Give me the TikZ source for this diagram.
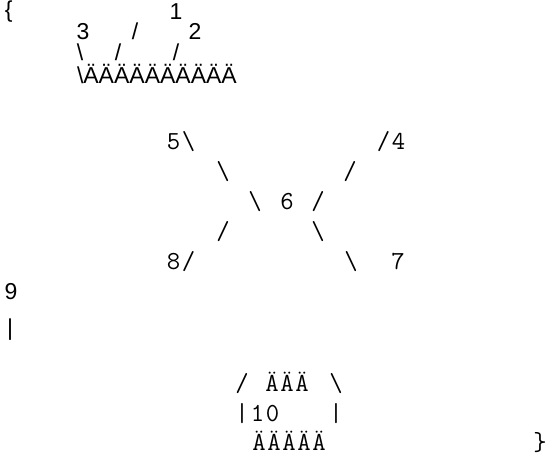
\documentclass[tikz,border=0pt]{standalone}
\usepackage{fontspec}
\setmainfont{Liberation Sans}
\setmonofont{Latin Modern Mono}
\newcommand\cc[1]{\makebox[15pt][c]{#1}}
\tikzset{
  sans/.style={inner sep=0pt, outer sep=0pt, font=\fontsize{23}{23}\selectfont, anchor=base},
  mono/.style={inner sep=0pt, outer sep=0pt, font=\fontsize{26}{26}\selectfont\ttfamily, anchor=base},
}
\begin{document}
\begin{tikzpicture}[x=1pt, y=-1pt]
\useasboundingbox (0,0) rectangle (547,457);
% sans part
\node[sans, anchor=base west] (lbrace) at (5,18) {\{};
\node[sans] (n1) at (176,20) {1};
\node[sans] (n3) at (83,40) {3};
\node[sans] (s1) at (135,40) {/};
\node[sans] (n2) at (195,40) {2};
\node[sans] (b1) at (80,61) {\textbackslash};
\node[sans] (s2) at (118,61) {/};
\node[sans] (s3) at (176,61) {/};
\node[sans, anchor=base west] (bar1) at (77,84) {\textbackslash ÄÄÄÄÄÄÄÄÄÄ};
\node[sans] (n9) at (11,300) {9};
\node[sans] (pipe) at (10,336) {|};
% mono part
\node[mono, anchor=base west] (n5) at (166,150) {\cc{5}\cc{\textbackslash}};
\node[mono, anchor=base east] (n4) at (406,150) {\cc{/}\cc{4}};
\node[mono] (b2) at (223,180) {\textbackslash};
\node[mono] (s4) at (350,180) {/};
\node[mono] (b3) at (255,210) {\textbackslash};
\node[mono] (n6) at (287,210) {6};
\node[mono] (s5) at (318,210) {/};
\node[mono] (s6) at (223,240) {/};
\node[mono] (b4) at (318,240) {\textbackslash};
\node[mono, anchor=base west] (n8) at (166,270) {\cc{8}\cc{/}};
\node[mono] (b5) at (351,270) {\textbackslash};
\node[mono] (n7) at (398,270) {7};
% bottom box
\node[mono] (s7) at (242,392) {/};
\node[mono] (top) at (287,392) {\cc{Ä}\cc{Ä}\cc{Ä}};
\node[mono] (b6) at (336,392) {\textbackslash};
\node[mono] (p1) at (242,421) {|};
\node[mono] (n10) at (265,421) {\cc{1}\cc{0}};
\node[mono] (p2) at (336,421) {|};
\node[mono] (bot) at (289,451) {\cc{Ä}\cc{Ä}\cc{Ä}\cc{Ä}\cc{Ä}};
\node[mono] (rbrace) at (540,451) {\}};
\end{tikzpicture}
\end{document}
